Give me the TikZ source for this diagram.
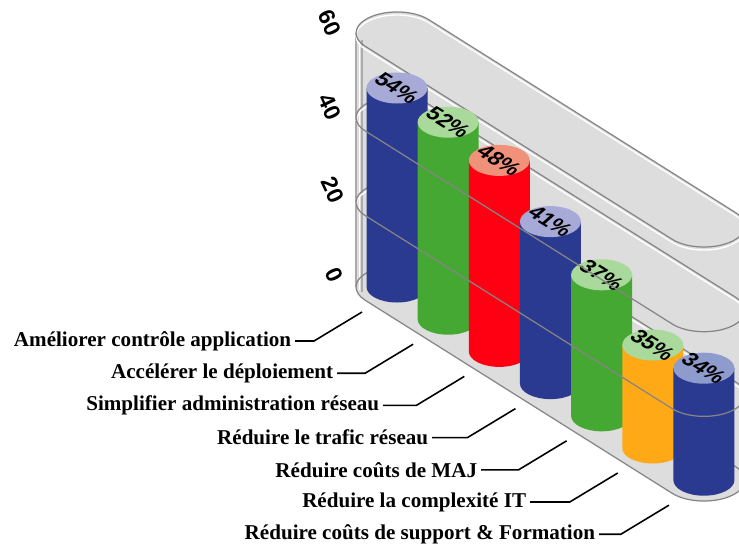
\documentclass[tikz,border=0pt]{standalone}
\usepackage{fontspec}
\setmainfont{Liberation Serif}
\newfontfamily\numfont{Liberation Sans}
\usetikzlibrary{calc}

\definecolor{capsule}{HTML}{DDDDDD}
\definecolor{ringline}{HTML}{858585}
\definecolor{wallline}{HTML}{ABABAB}
\definecolor{blueBody}{HTML}{2A3A91}
\definecolor{blueTop}{HTML}{A7A9D6}
\definecolor{blueTopB}{HTML}{8E9BCD}
\definecolor{greenBody}{HTML}{45A832}
\definecolor{greenTop}{HTML}{A9D99B}
\definecolor{redBody}{HTML}{FF0012}
\definecolor{redTop}{HTML}{F0917A}
\definecolor{orangeBody}{HTML}{FFA916}

% halves of the capsule ring, floor level (lift with shift)
\newcommand{\ringback}{(745,480) arc (0:-39.2:41 and 21) -- (428.8,273.7) arc (-39.2:-180:41 and 21)}
\newcommand{\ringfront}{(356,287) arc (180:140.8:41 and 21) -- (672.2,493.3) arc (140.8:0:41 and 21)}

\tikzset{
  ring/.style={ringline, line width=0.7pt},
  shine/.style={white, line width=0.8pt},
  pct/.style={font=\numfont\bfseries\fontsize{15}{15}\selectfont, inner sep=0pt},
  axisnum/.style={font=\numfont\bfseries\fontsize{13}{13}\selectfont, rotate=-65, inner sep=0pt},
  catlabel/.style={font=\bfseries\fontsize{12}{14}\selectfont, anchor=east, inner sep=2pt},
  leader/.style={black, line width=0.9pt},
}

\begin{document}
\begin{tikzpicture}[x=0.02cm, y=-0.02cm]
\clip (0,0) rectangle (739,548);
\fill[white] (0,0) rectangle (739,548);

% glass capsule
\fill[capsule] (356,33) arc (180:320.8:41 and 21) -- (735.8,212.7) arc (-39.2:0:41 and 21)
  -- (745,480) arc (0:140.8:41 and 21) -- (365.2,300.3) arc (140.8:180:41 and 21) -- cycle;
\draw[wallline, line width=1.6pt] (356,33) -- (356,287);
\draw[shine] (359.5,40) -- (359.5,290);
\draw[wallline, line width=0.6pt] (362,40) -- (362,292);

% top face and back halves of the rings
\draw[shine, shift={(0,-251)}] \ringback;
\draw[shine, shift={(0,-251)}] \ringfront;
\draw[ring, shift={(0,-254)}] \ringback;
\draw[ring, shift={(0,-254)}] \ringfront;
\foreach \lev in {84.67,169.33}{
  \draw[shine, shift={(0,-\lev+3)}] \ringback;
  \draw[ring, shift={(0,-\lev)}] \ringback;
}
\draw[ring] \ringback;
\draw[ring] \ringfront;

% bars
\foreach \i/\h/\body/\cap/\val in {0/199/blueBody/blueTop/54, 1/197/greenBody/greenTop/52,
    2/191/redBody/redTop/48, 3/162/blueBody/blueTop/41, 4/141/greenBody/greenTop/37,
    5/103/orangeBody/greenTop/35, 6/112/blueBody/blueTopB/34}{
  \pgfmathsetmacro\cx{397+51.15*\i}
  \pgfmathsetmacro\cy{287+32.2*\i}
  \pgfmathsetmacro\ct{\cy-\h}
  \fill[\body] (\cx-30.5,\ct) -- (\cx-30.5,\cy) arc (180:0:30.5 and 15.5) -- (\cx+30.5,\ct) -- cycle;
  \fill[\cap] (\cx,\ct) ellipse (30.5 and 15.5);
  \node[pct, cm={0.70,-0.44,0.62,0.55,(0,0)}] (pct\i) at (\cx,\ct) {\val\%};
}

% front halves of the rings, over the bars
\foreach \lev in {84.67,169.33}
  \draw[ring, shift={(0,-\lev)}] \ringfront;

% value axis
\node[axisnum] (ax60) at (330,23) {60};
\node[axisnum] (ax40) at (330,107) {40};
\node[axisnum] (ax20) at (333,190) {20};
\node[axisnum] (ax0) at (334,275) {0};

% categories
\foreach \i/\rx/\txt in {0/295/Améliorer contrôle application, 1/337/Accélérer le déploiement,
    2/383/Simplifier administration réseau, 3/432/Réduire le trafic réseau,
    4/481/Réduire coûts de MAJ, 5/530/Réduire la complexité IT,
    6/599/Réduire coûts de support \& Formation}{
  \coordinate (up\i) at (362+51.15*\i, 312+32.2*\i);
  \coordinate (low\i) at ($(up\i)+(-48,29)$);
  \node[catlabel] (lab\i) at (\rx, 341+32.2*\i) {\txt};
  \draw[leader] (lab\i.east) -- (lab\i.east -| low\i) -- (up\i);
}
\end{tikzpicture}
\end{document}
